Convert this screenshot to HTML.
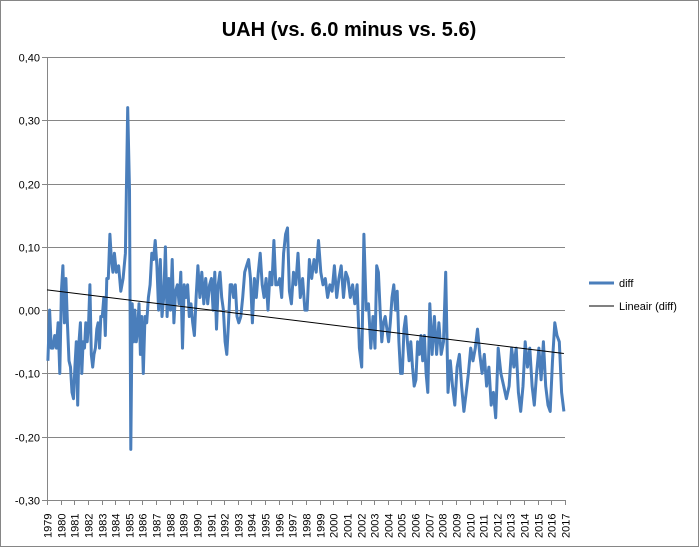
<!DOCTYPE html>
<html><head><meta charset="utf-8"><style>
body{margin:0;background:#fff;font-family:"Liberation Sans",sans-serif}
#wrap{position:relative;width:699px;height:547px;overflow:hidden}
</style></head><body>
<div id="wrap">
<svg id="svg" width="699" height="547" xmlns="http://www.w3.org/2000/svg">
<rect x="0.5" y="0.5" width="698" height="546" fill="#fff" stroke="#868686"/>
<text x="349" y="36" text-anchor="middle" font-size="20" font-weight="bold" font-family="Liberation Sans, sans-serif">UAH (vs. 6.0 minus vs. 5.6)</text>
<g id="grid"></g><g id="axes"></g><g id="series"></g>
<g>
<line x1="589" y1="283" x2="614" y2="283" stroke="#4a7ebb" stroke-width="3"/>
<text x="619" y="287" font-size="11" font-family="Liberation Sans, sans-serif">diff</text>
<line x1="589" y1="306" x2="614" y2="306" stroke="#000" stroke-width="1"/>
<text x="619" y="310" font-size="11" font-family="Liberation Sans, sans-serif">Lineair (diff)</text>
</g>
</svg></div>
<script>
const years=[1979,1980,1981,1982,1983,1984,1985,1986,1987,1988,1989,1990,1991,1992,1993,1994,1995,1996,1997,1998,1999,2000,2001,2002,2003,2004,2005,2006,2007,2008,2009,2010,2011,2012,2013,2014,2015,2016];
const diffByYear=[
[-.08,0,-.06,-.06,-.04,-.06,-.02,-.10],
[.03,.07,-.02,.05,-.02,-.08,-.09,-.13,-.14],
[-.09,-.05,-.15,-.05,-.02,-.10,-.05,-.06,-.02,-.05],
[-.02,.04,-.07,-.09,-.07,-.06,-.03,-.02,-.06,-.01],
[-.01,.02,-.04,.05,.05,.12,.08,.06,.09],
[.06,.07,.03,.05,.09,.32],
[.19,-.22,.01,-.05,0,-.05,-.03,.01,-.07,-.01],
[-.10,-.01,-.02,.02,.04,.09,.08,.11],
[.07,0,.08,-.01,.02,.10,-.01,.05],
[0,.08,-.02,.03,.04,.01,.06,-.06],
[.04,.02,.04,-.01,.01,-.02,-.04,.02],
[.07,.02,.06,.01,.05,.01,.04],
[.05,0,.06,-.03,.04,.06,.02,0],
[-.05,-.07,-.02,.04,.04,.02,.04,-.01],
[-.02,-.01,.02,.06,.07,.08,.05],
[-.02,.05,.02,.06,.09,.04,.02],
[.05,0,.06,.04,.11,.04,.04],
[.05,.02,.09,.12,.13,.03,.01],
[.06,.04,.09,.02,.05,0],
[0,.08,.05,.08,.06,.11],
[.06,.04,.05,.02,.04,.03],
[.07,.02,.05,.07,.02,.06],
[.05,.02,.04,.01,.04,-.06],
[-.09,.12,0,.01,-.06,-.01],
[-.06,.07,.06,0,-.05,-.02,-.01,-.03],
[-.05,-.02,.02,.04,0,.03,-.05,-.10],
[-.10,-.03,-.01,-.05,-.08,-.05,-.09,-.12],
[-.11,-.05,-.07,-.04,-.08,-.04,-.10,-.13],
[.01,-.07,-.01,-.07,-.02,-.07],
[-.05,.06,-.13,-.08,-.12,-.15],
[-.09,-.07,-.12,-.16,-.13,-.10],
[-.06,-.08,-.06,-.03,-.07,-.10],
[-.07,-.12,-.09,-.15,-.13,-.17],
[-.06,-.10,-.12,-.14,-.12],
[-.06,-.09,-.06,-.13,-.16,-.12],
[-.05,-.09,-.06,-.12,-.15,-.10],
[-.06,-.11,-.05,-.12,-.15,-.16],
[-.08,-.02,-.04,-.05,-.13,-.16]];
const yTicks=[0.4,0.3,0.2,0.1,0,-0.1,-0.2,-0.3];
const xTickYears=[];for(let y=1979;y<=2017;y++)xTickYears.push(y);

const NS="http://www.w3.org/2000/svg";
const X0=47,X1=565,Y0=57,Y1=500,ymin=-0.3,ymax=0.4;
const xs=t=>X0+(t-1979)*(X1-X0)/(2017-1979);
const ys=v=>Y1-(v-ymin)*(Y1-Y0)/(ymax-ymin);
function mk(tag,attrs,parent){const e=document.createElementNS(NS,tag);for(const k in attrs)e.setAttribute(k,attrs[k]);parent.appendChild(e);return e;}
const grid=document.getElementById('grid'),axes=document.getElementById('axes'),ser=document.getElementById('series');
yTicks.forEach(v=>{
 const y=Math.round(ys(v))+0.5;
 const l=mk('line',{x1:X0-5,x2:v===ymin?X1:X1,y1:y,y2:y,stroke:v===ymin?'#868686':'#868686','stroke-width':1},grid);
 
 
 const t=mk('text',{x:40,y:y+4,'text-anchor':'end','font-size':11,'font-family':'Liberation Sans, sans-serif'},axes);
 t.textContent=v.toFixed(2).replace('.',',');
 
 
});
const ax=mk('line',{x1:X0+0.5,x2:X0+0.5,y1:Y0,y2:Y1,stroke:'#868686'},axes);


xTickYears.forEach(yr=>{
 const x=Math.round(xs(yr))+0.5;
 const tk=mk('line',{x1:x,x2:x,y1:Y1,y2:Y1+5,stroke:'#868686'},axes);
 
 
 const t=mk('text',{x:0,y:0,transform:`translate(${x+4},${Y1+38}) rotate(-90)`,'font-size':11,'font-family':'Liberation Sans, sans-serif'},axes);
 t.textContent=yr;
 
 
});
const pts=[];
years.forEach((yr,i)=>{const a=diffByYear[i];a.forEach((v,j)=>pts.push([yr+(j+0.5)/a.length,v]));});
const p=mk('polyline',{points:pts.map(q=>xs(q[0]).toFixed(1)+','+ys(q[1]).toFixed(1)).join(' '),fill:'none',stroke:'#4a7ebb','stroke-width':3,'stroke-linejoin':'round'},ser);


let n=pts.length,sx=0,sy=0,sxx=0,sxy=0;pts.forEach(q=>{sx+=q[0];sy+=q[1];sxx+=q[0]*q[0];sxy+=q[0]*q[1];});
const b=(n*sxy-sx*sy)/(n*sxx-sx*sx),a0=(sy-b*sx)/n;
const t0=pts[0][0],t1=pts[n-1][0];
const tl=mk('line',{x1:xs(1979),y1:ys(a0+b*1979),x2:xs(t1),y2:ys(a0+b*t1),stroke:'#000','stroke-width':1},ser);


</script>
</body></html>
